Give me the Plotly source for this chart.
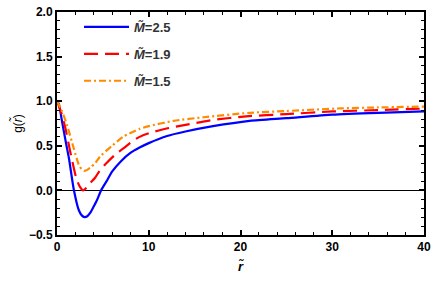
import plotly.graph_objects as go

r_blue = [0, 0.2, 0.5, 0.76, 1.0, 1.3, 1.83, 2.37, 2.7, 3.0, 3.3, 3.63, 4.0, 4.35, 4.8, 5.5, 6.0, 7.0, 8.0, 9.0, 10, 12, 14, 17, 21, 25, 30, 35, 40]
g_blue = [1.0, 0.97, 0.80, 0.655, 0.52, 0.36, 0.01, -0.22, -0.28, -0.30, -0.29, -0.25, -0.18, -0.11, 0.0, 0.12, 0.21, 0.33, 0.42, 0.48, 0.53, 0.61, 0.66, 0.72, 0.78, 0.81, 0.85, 0.87, 0.885]

r_red = [0, 0.5, 0.93, 1.47, 2.12, 2.5, 2.85, 3.2, 3.6, 4.17, 4.64, 5.43, 6.44, 7.23, 8.2, 9.0, 10, 12.2, 14, 17, 20.6, 25, 30, 35, 40]
g_red = [1.0, 0.86, 0.69, 0.42, 0.13, 0.04, 0.0, 0.03, 0.08, 0.145, 0.22, 0.31, 0.41, 0.47, 0.55, 0.60, 0.64, 0.70, 0.735, 0.79, 0.83, 0.855, 0.885, 0.90, 0.917]

r_orange = [0, 0.5, 1.1, 1.83, 2.37, 2.7, 3.0, 3.3, 3.63, 4.2, 4.7, 6.0, 7.2, 9.0, 10, 12.7, 16, 21, 25, 31, 35, 40]
g_orange = [1.0, 0.90, 0.73, 0.47, 0.29, 0.235, 0.22, 0.23, 0.255, 0.31, 0.38, 0.50, 0.60, 0.69, 0.72, 0.78, 0.82, 0.87, 0.89, 0.92, 0.93, 0.94]

names = ["<i>M̃</i>=2.5", "<i>M̃</i>=1.9", "<i>M̃</i>=1.5"]

fig = go.Figure()
fig.add_trace(go.Scatter(x=r_blue, y=g_blue, mode="lines", name=names[0], legendgroup="a",
                         line=dict(color="#0000FF", width=2.2, shape="spline", smoothing=0.6)))
fig.add_trace(go.Scatter(x=r_red, y=g_red, mode="lines", name=names[1], legendgroup="b",
                         line=dict(color="#FF0000", width=2.2, dash="14px,7px", shape="spline", smoothing=0.6)))
fig.add_trace(go.Scatter(x=r_orange, y=g_orange, mode="lines", name=names[2], legendgroup="c",
                         line=dict(color="#FF8C00", width=2.2, dash="7px,3px,2px,3px", shape="spline", smoothing=0.6)))

bold_font = dict(family="Liberation Sans", size=12, color="black", weight="bold")
axis_common = dict(showline=True, linecolor="black", linewidth=2, mirror="ticks",
                   ticks="inside", ticklen=5, tickwidth=1.5, tickcolor="black",
                   showgrid=False, tickfont=bold_font)

fig.update_xaxes(range=[0, 40], dtick=10, tick0=0,
                 minor=dict(dtick=2, ticks="inside", ticklen=3, tickwidth=1, tickcolor="black"),
                 zeroline=False,
                 title=dict(text="<i>r̃</i>", font=dict(family="Liberation Sans", size=13, color="black", weight="bold"), standoff=8),
                 tickformat="d", **axis_common)
fig.update_yaxes(range=[-0.5, 2.0], dtick=0.5, tick0=0,
                 minor=dict(dtick=0.1, ticks="inside", ticklen=3, tickwidth=1, tickcolor="black"),
                 zeroline=True, zerolinecolor="black", zerolinewidth=1,
                 tickformat=".1f",
                 title=dict(text="g(<i>r̃</i>)", font=dict(family="Liberation Sans", size=12, color="black"), standoff=4),
                 **axis_common)

fig.update_layout(
    width=436, height=283,
    margin=dict(l=57, r=8, t=5, b=48),
    paper_bgcolor="white", plot_bgcolor="white",
    font=dict(family="Liberation Sans", size=12, color="black"),
    showlegend=True,
    legend=dict(x=0.06, y=1.0, xanchor="left", yanchor="top",
                bgcolor="rgba(255,255,255,0)", borderwidth=0,
                font=dict(family="Liberation Sans", size=13, color="#333333", weight="bold"),
                itemwidth=45, tracegroupgap=7),
)

fig.write_html("out.html", config={"displayModeBar": False},
               post_script="document.body.style.margin='0';document.body.style.padding='0';")
